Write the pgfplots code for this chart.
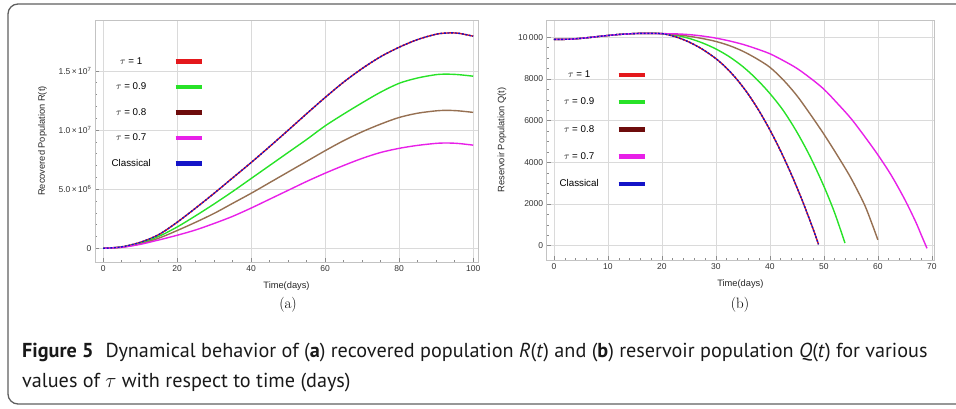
\documentclass[border=0pt]{standalone}
\usepackage{pgfplots}
\pgfplotsset{compat=1.18}
\usepackage{pgfplotstable}
\usepackage{fontspec}
\newfontfamily\arialfont{Liberation Sans}
\newfontfamily\capfont{PT Sans}

\definecolor{cRed}{RGB}{228,24,28}
\definecolor{cGreen}{RGB}{40,226,40}
\definecolor{cBrown}{RGB}{150,112,82}
\definecolor{cMaroon}{RGB}{110,12,12}
\definecolor{cMag}{RGB}{232,32,232}
\definecolor{cBlue}{RGB}{20,20,200}
\definecolor{gridc}{RGB}{218,218,218}
\definecolor{framec}{RGB}{195,195,195}
\definecolor{boxc}{RGB}{95,95,95}

% recovered population R(t), tau = 1 and classical coincide
\pgfplotstableread{
t R
0 0
5 0.12e6
10 0.5e6
15 1.15e6
20 2.2e6
25 3.4e6
30 4.65e6
35 5.95e6
40 7.25e6
45 8.6e6
50 9.98e6
55 11.38e6
60 12.75e6
65 14.05e6
70 15.2e6
75 16.2e6
80 17.0e6
85 17.65e6
90 18.1e6
93 18.2e6
96 18.18e6
100 17.93e6
}\Rone
\pgfplotstableread{
t R
0 0
5 0.1e6
10 0.43e6
15 1.0e6
20 1.8e6
25 2.75e6
30 3.75e6
35 4.8e6
40 5.9e6
45 7.0e6
50 8.1e6
55 9.2e6
60 10.35e6
65 11.35e6
70 12.3e6
75 13.2e6
80 13.95e6
85 14.4e6
90 14.68e6
93 14.72e6
96 14.68e6
100 14.55e6
}\Rnine
\pgfplotstableread{
t R
0 0
5 0.09e6
10 0.38e6
15 0.85e6
20 1.5e6
25 2.2e6
30 2.95e6
35 3.8e6
40 4.65e6
45 5.55e6
50 6.45e6
55 7.35e6
60 8.25e6
65 9.1e6
70 9.85e6
75 10.5e6
80 11.06e6
85 11.42e6
90 11.62e6
93 11.66e6
96 11.62e6
100 11.49e6
}\Reight
\pgfplotstableread{
t R
0 0
5 0.08e6
10 0.33e6
15 0.7e6
20 1.1e6
25 1.55e6
30 2.1e6
35 2.7e6
40 3.4e6
45 4.15e6
50 4.9e6
55 5.65e6
60 6.35e6
65 7.0e6
70 7.6e6
75 8.1e6
80 8.45e6
85 8.7e6
90 8.87e6
93 8.9e6
96 8.86e6
100 8.72e6
}\Rseven

% reservoir population Q(t)
\pgfplotstableread{
t Q
0 9900
3 9910
6 9975
9 10060
12 10135
15 10180
17 10190
20 10175
22.5 10025
25 9775
27.5 9425
30 8975
32 8515
34 7945
36 7265
38 6465
40 5555
42 4535
44 3405
46 2165
48 805
49 65
}\Qone
\pgfplotstableread{
t Q
0 9900
3 9910
6 9975
9 10060
12 10135
15 10180
17 10190
20 10175
22.5 10100
25 9950
27.5 9730
30 9440
32.5 9065
35 8590
37.5 8002
40 7302
42.5 6477
45 5452
47.5 4252
50 2852
52 1572
53.9 128
}\Qnine
\pgfplotstableread{
t Q
0 9900
3 9910
6 9975
9 10060
12 10135
15 10180
17 10190
20 10175
22.5 10130
25 10050
27.5 9940
30 9800
32.5 9600
35 9330
37.5 8980
40 8560
42.5 7950
45 7200
47.5 6300
50 5350
52.5 4330
55 3250
57.5 1980
59 990
60 280
}\Qeight
\pgfplotstableread{
t Q
0 9900
3 9910
6 9975
9 10060
12 10135
15 10180
17 10190
20 10175
22.5 10165
25 10130
27.5 10060
30 9960
32.5 9825
35 9660
37.5 9450
40 9210
42.5 8880
45 8510
47.5 8040
50 7510
52.5 6830
55 6110
57.5 5260
60 4360
62.5 3370
65 2210
67 1150
68 540
69.1 -125
}\Qseven

\pgfplotsset{
  mma/.style={
    scale only axis,
    axis line style={framec, line width=0.6pt},
    tick style={color=black!45, line width=0.5pt},
    major tick length=4pt, minor tick length=2.2pt,
    tick pos=left, tick align=inside,
    grid=major, major grid style={gridc, line width=0.6pt},
    scaled ticks=false,
    /pgf/number format/assume math mode=true,
    tick label style={font=\arialfont\fontsize{8.5}{9}\selectfont, text=black!80},
    label style={font=\arialfont\fontsize{9.3}{10}\selectfont, text=black!85},
    xlabel style={yshift=-3pt},
    ylabel style={yshift=5pt},
    every axis plot/.append style={line width=1.4pt, mark=none, smooth},
    legend style={draw=none, fill=none, inner sep=0pt,
      font=\arialfont\fontsize{9.8}{11}\selectfont, nodes={inner sep=0.5pt}},
    legend plot pos=right,
    legend cell align=center,
    legend image code/.code={\draw[line width=4.5pt, solid] (0pt,0pt) -- (26pt,0pt);},
  },
}

\begin{document}
\begin{tikzpicture}
\useasboundingbox (0pt,0pt) rectangle (956pt,409pt);
\draw[boxc, line width=1.3pt, rounded corners=10pt] (8pt,5pt) rectangle (1000pt,405pt);

\begin{axis}[mma,
  at={(95pt,147pt)}, anchor=south west,
  width=383pt, height=242pt,
  xmin=-2.2, xmax=101.3, ymin=-1.16e6, ymax=1.93e7,
  xtick={0,20,...,100}, minor x tick num=3,
  ytick={0,5e6,10e6,15e6}, minor y tick num=4,
  yticklabels={0, {5.0\,×\,10\textsuperscript{6}}, {1.0\,×\,10\textsuperscript{7}}, {1.5\,×\,10\textsuperscript{7}}},
  xlabel={Time(days)}, ylabel={Recovered Population R(t)},
  legend style={at={(axis cs:2.1,16.2e6)}, anchor=north west, column sep=22pt, row sep=16.2pt},
]
\addplot[cRed] table[x=t,y=R] {\Rone};
\addlegendentry{$\tau$ = 1}
\addplot[cGreen] table[x=t,y=R] {\Rnine};
\addlegendentry{$\tau$ = 0.9}
\addplot[cBrown, legend image post style={cMaroon}] table[x=t,y=R] {\Reight};
\addlegendentry{$\tau$ = 0.8}
\addplot[cMag] table[x=t,y=R] {\Rseven};
\addlegendentry{$\tau$ = 0.7}
\addplot[cBlue, dash pattern=on 2pt off 1.6pt] table[x=t,y=R] {\Rone};
\addlegendentry{Classical}
\end{axis}

\begin{axis}[mma,
  at={(546.7pt,149pt)}, anchor=south west,
  width=387.3pt, height=240pt,
  xmin=-1.35, xmax=70.4, ymin=-686, ymax=10830,
  xtick={0,10,...,70}, minor x tick num=4,
  ytick={0,2000,...,10000}, minor y tick num=3,
  yticklabels={0,2000,4000,6000,8000,10\,000},
  xlabel={Time(days)}, ylabel={Reservoir Population Q(t)},
  legend style={at={(axis cs:0.9,8420)}, anchor=north west, column sep=17pt, row sep=17.9pt},
]
\addplot[cRed] table[x=t,y=Q] {\Qone};
\addlegendentry{$\tau$ = 1}
\addplot[cGreen] table[x=t,y=Q] {\Qnine};
\addlegendentry{$\tau$ = 0.9}
\addplot[cBrown, legend image post style={cMaroon}] table[x=t,y=Q] {\Qeight};
\addlegendentry{$\tau$ = 0.8}
\addplot[cMag] table[x=t,y=Q] {\Qseven};
\addlegendentry{$\tau$ = 0.7}
\addplot[cBlue, dash pattern=on 2pt off 1.6pt] table[x=t,y=Q] {\Qone};
\addlegendentry{Classical}
\end{axis}

\node[font=\fontsize{15}{16}\selectfont] at (288pt,104pt) {(a)};
\node[font=\fontsize{15}{16}\selectfont] at (740pt,104pt) {(b)};

\node[anchor=base west, inner sep=0pt, font=\capfont\fontsize{20.2}{22}\selectfont, text=black!90] at (22pt,51pt)
  {\textbf{Figure 5}\hspace{0.6em}Dynamical behavior of (\textbf{a}) recovered population \textit{R}(\textit{t}) and (\textbf{b}) reservoir population \textit{Q}(\textit{t}) for various};
\node[anchor=base west, inner sep=0pt, font=\capfont\fontsize{20.2}{22}\selectfont, text=black!90] at (22pt,21pt)
  {values of $\tau$ with respect to time (days)};
\end{tikzpicture}
\end{document}
